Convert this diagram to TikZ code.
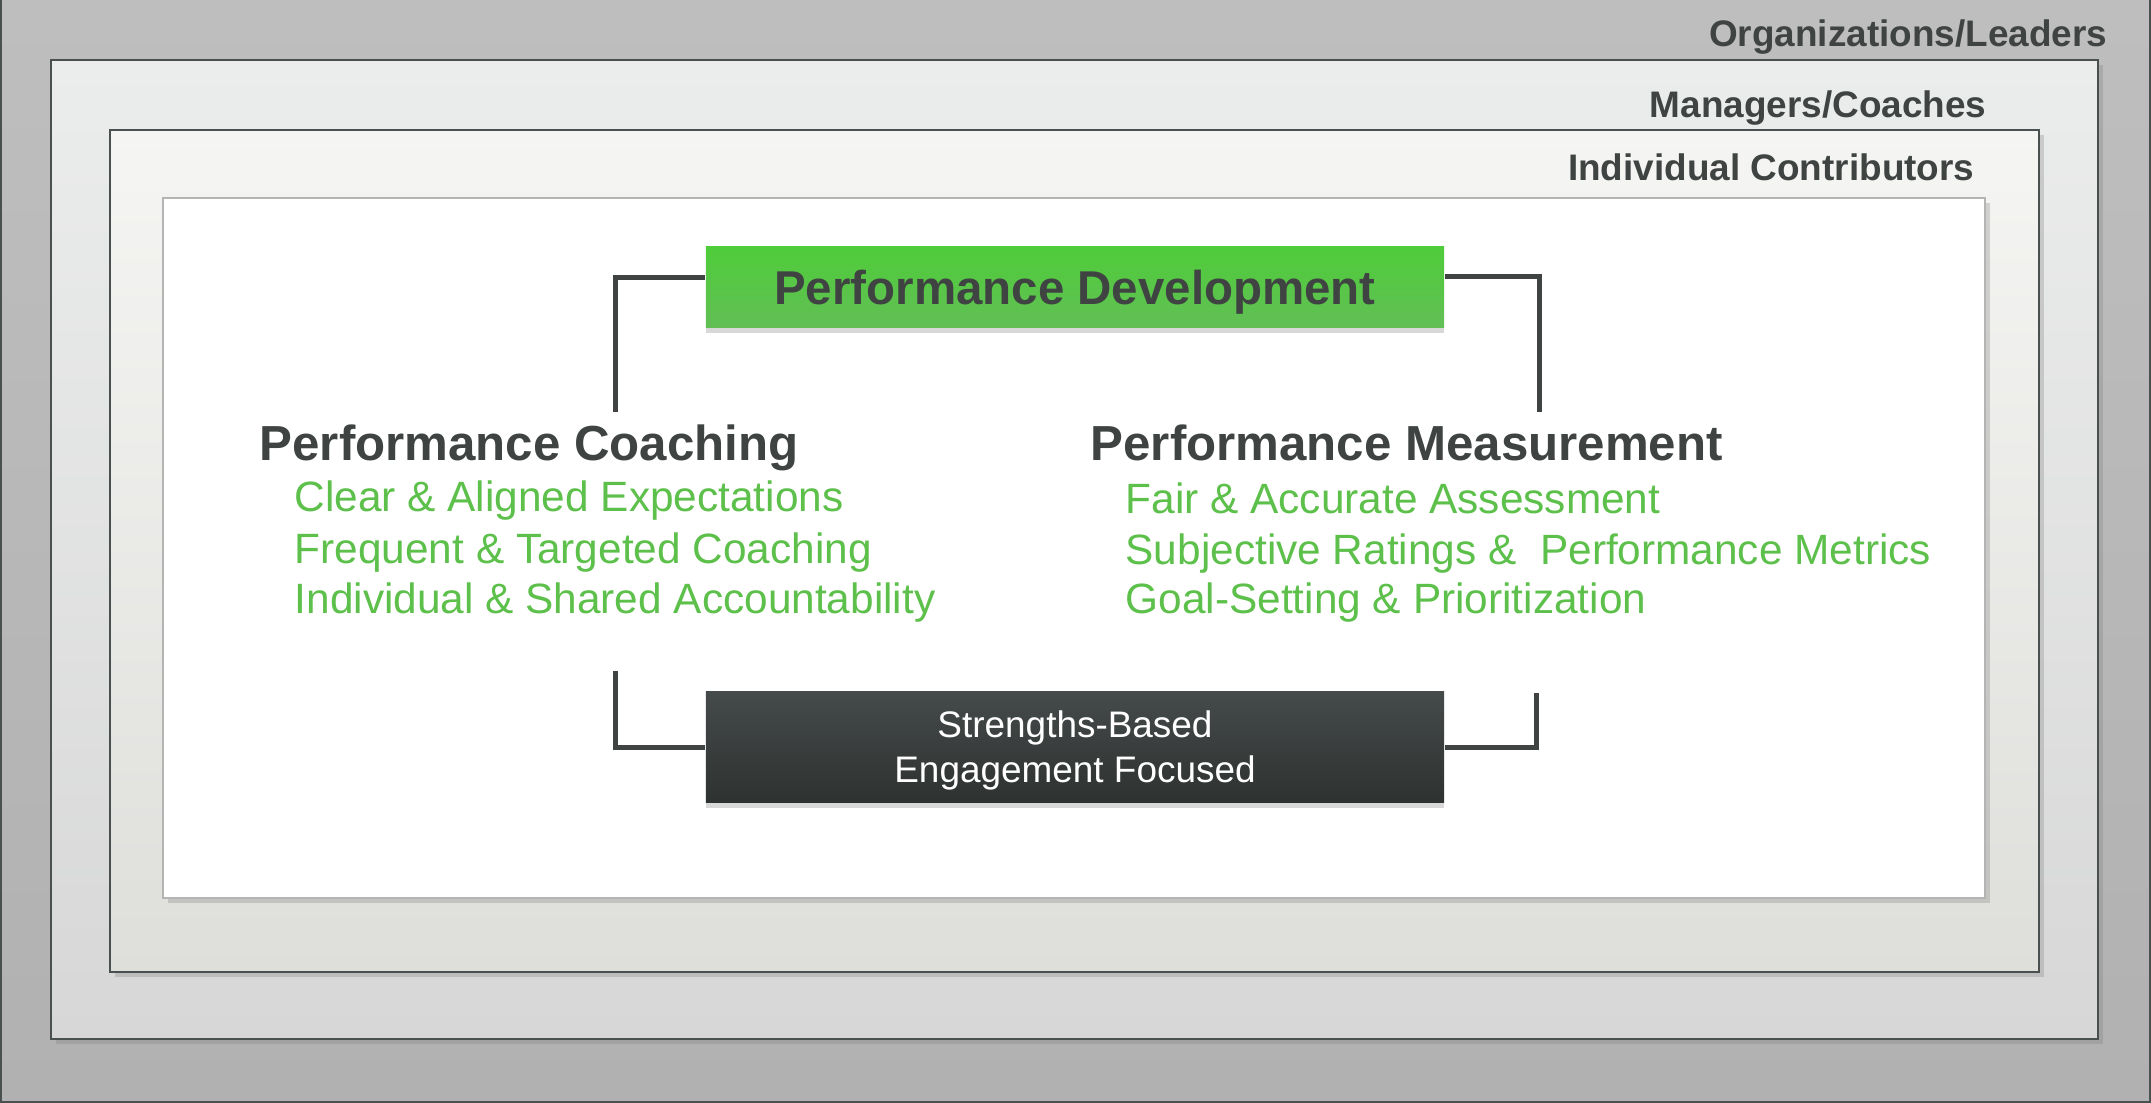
\documentclass[tikz,border=0pt]{standalone}
\usepackage{fontspec}
\setmainfont{Liberation Sans}
\usetikzlibrary{positioning,shadows}

\definecolor{ink}{HTML}{3F4443}
\definecolor{edge}{HTML}{4A4F4F}
\definecolor{rim}{HTML}{B4B4B4}
\definecolor{leaf}{HTML}{5CC04B}
\definecolor{leaftop}{HTML}{4FCC3A}
\definecolor{leafbot}{HTML}{62BF55}
\definecolor{slatetop}{HTML}{454A4A}
\definecolor{slatebot}{HTML}{2E3231}
\definecolor{orgtop}{HTML}{BEBEBE}
\definecolor{orgbot}{HTML}{B1B1B1}
\definecolor{mgrtop}{HTML}{EBEDEC}
\definecolor{mgrbot}{HTML}{D7D7D7}
\definecolor{ictop}{HTML}{F5F5F3}
\definecolor{icbot}{HTML}{DEDFDB}

\begin{document}
\begin{tikzpicture}[x=0.01cm, y=-0.01cm, every node/.style={inner sep=0pt},
  tier/.style={draw=edge, line width=0.02cm, drop shadow={shadow xshift=0.05cm, shadow yshift=-0.05cm, opacity=0.3}},
  tag/.style={font=\fontsize{10.5}{12}\selectfont\bfseries, text=ink, anchor=base east},
  banner/.style={minimum width=7.38cm, text depth=0pt, drop shadow={shadow xshift=0cm, shadow yshift=-0.06cm, opacity=0.3}},
  heading/.style={font=\fontsize{14}{16}\selectfont\bfseries, text=ink, anchor=base west},
  item/.style={font=\fontsize{12.05}{14}\selectfont, text=leaf, anchor=base west},
  bracket/.style={draw=ink, line width=0.05cm}]
  \useasboundingbox (0,0) rectangle (2151,1103);

  % nested tiers, outermost first
  \fill[top color=orgtop, bottom color=orgbot] (0,0) rectangle (2151,1103);
  \draw[edge, line width=0.02cm] (1,0) -- (1,1102) -- (2150,1102) -- (2150,0);
  \draw[tier, top color=mgrtop, bottom color=mgrbot] (51,60) rectangle (2098,1039);
  \draw[tier, top color=ictop, bottom color=icbot] (110,130) rectangle (2039,972);
  \draw[tier, draw=rim, fill=white] (163,198) rectangle (1985,898);

  \node[tag] (org) at (2108,47) {Organizations/Leaders};
  \node[tag] (mgr) at (1987,117) {Managers/Coaches};
  \node[tag] (ic) at (1975,180) {Individual Contributors};

  % top and bottom banners
  \node[banner, minimum height=0.8cm, top color=leaftop, bottom color=leafbot,
    font=\fontsize{13.5}{16}\selectfont\bfseries, text=ink] (pd) at (1075,287) {Performance Development};
  \node[banner, minimum height=1.1cm, top color=slatetop, bottom color=slatebot, text=white,
    align=center, font=\fontsize{10.5}{12.8}\selectfont] (sb) at (1075,747) {Strengths-Based\\Engagement Focused};

  % the two columns
  \node[heading] (coach) at (259,460) {Performance Coaching};
  \node[item] (c1) at (294,511) {Clear \& Aligned Expectations};
  \node[item] (c2) at (294,563) {Frequent \& Targeted Coaching};
  \node[item] (c3) at (294,613) {Individual \& Shared Accountability};

  \node[heading] (meas) at (1090,460) {Performance Measurement};
  \node[item] (m1) at (1125,513) {Fair \& Accurate Assessment};
  \node[item] (m2) at (1125,564) {Subjective Ratings \& \ Performance Metrics};
  \node[item] (m3) at (1125,613) {Goal-Setting \& Prioritization};

  % brackets
  \coordinate (cTop) at (615,412);
  \coordinate (mTop) at (1539,412);
  \coordinate (cBot) at (615,671);
  \coordinate (mBot) at (1536,693);
  \draw[bracket] ([yshift=0.09cm]pd.west) -| (cTop);
  \draw[bracket] ([yshift=0.1cm]pd.east) -| (mTop);
  \draw[bracket] (cBot) |- (sb.west);
  \draw[bracket] (mBot) |- (sb.east);
\end{tikzpicture}
\end{document}
